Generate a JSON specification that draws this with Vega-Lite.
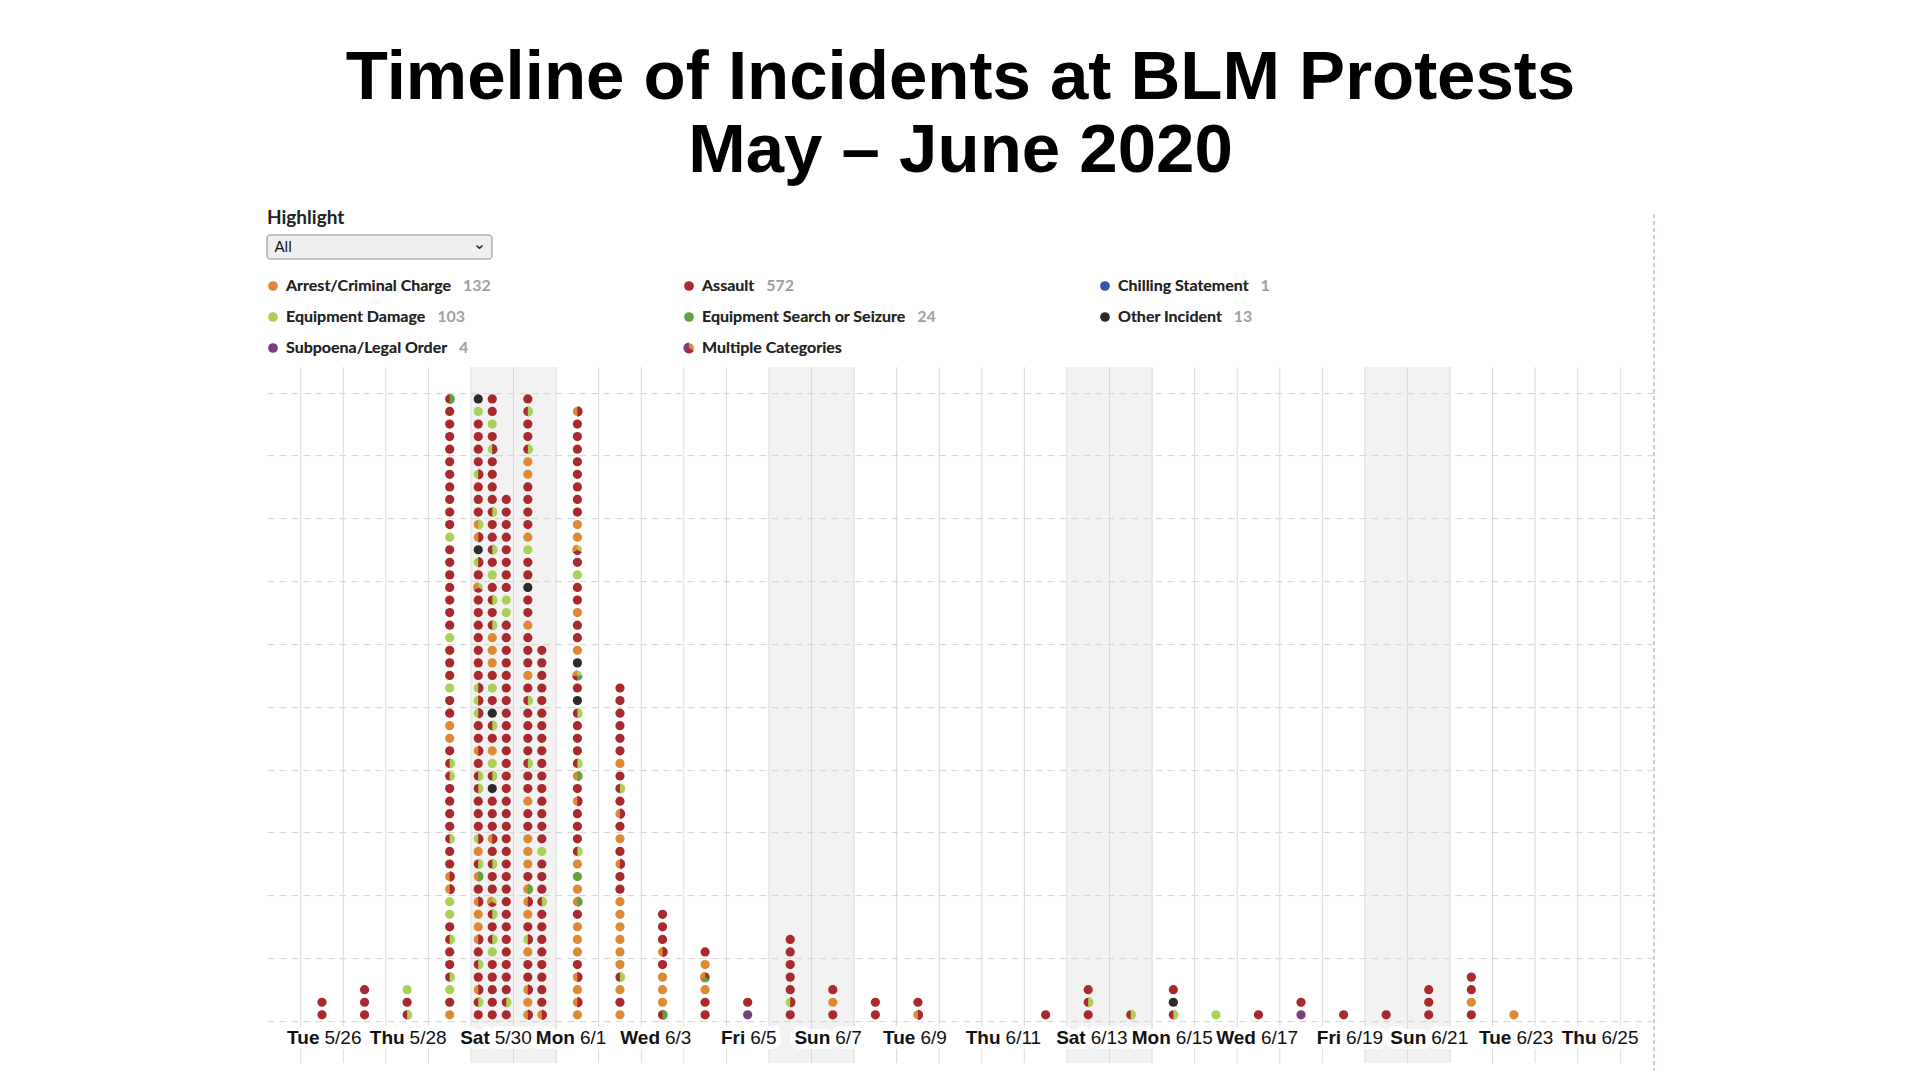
{
"$schema": "https://vega.github.io/schema/vega-lite/v6.json",
"background": "white",
"padding": {"left": 266, "top": 44, "right": 10, "bottom": 5},
"config": {"view": {"stroke": null}, "font": "Liberation Sans", "header": {"labels": false, "title": null, "labelFontSize": 1, "labelPadding": 0, "labelColor": "transparent", "titlePadding": 0}},
"title": {"text": ["Timeline of Incidents at BLM Protests", "May – June 2020"], "font": "Liberation Sans", "fontSize": 69, "fontWeight": "bold", "color": "#000", "anchor": "middle", "baseline": "alphabetic", "lineHeight": 73, "offset": -32.2, "frame": "bounds"},
"datasets": {
"legend": [
{"label": "Arrest/Criminal Charge", "count": 132, "cat": "Arrest/Criminal Charge"},
{"label": "Assault", "count": 572, "cat": "Assault"},
{"label": "Chilling Statement", "count": 1, "cat": "Chilling Statement"},
{"label": "Equipment Damage", "count": 103, "cat": "Equipment Damage"},
{"label": "Equipment Search or Seizure", "count": 24, "cat": "Equipment Search or Seizure"},
{"label": "Other Incident", "count": 13, "cat": "Other Incident"},
{"label": "Subpoena/Legal Order", "count": 4, "cat": "Subpoena/Legal Order"},
{"label": "Multiple Categories", "cat": "Arrest/Criminal Charge", "cat2": "Assault", "cat3": "Subpoena/Legal Order"}
],
"days": [
{"date": "2020-05-26"},{"date": "2020-05-27"},{"date": "2020-05-28"},{"date": "2020-05-29"},{"date": "2020-05-30"},{"date": "2020-05-31"},{"date": "2020-06-01"},{"date": "2020-06-02"},{"date": "2020-06-03"},{"date": "2020-06-04"},{"date": "2020-06-05"},{"date": "2020-06-06"},{"date": "2020-06-07"},{"date": "2020-06-08"},{"date": "2020-06-09"},{"date": "2020-06-10"},{"date": "2020-06-11"},{"date": "2020-06-12"},{"date": "2020-06-13"},{"date": "2020-06-14"},{"date": "2020-06-15"},{"date": "2020-06-16"},{"date": "2020-06-17"},{"date": "2020-06-18"},{"date": "2020-06-19"},{"date": "2020-06-20"},{"date": "2020-06-21"},{"date": "2020-06-22"},{"date": "2020-06-23"},{"date": "2020-06-24"},{"date": "2020-06-25"},{"date": "2020-06-26"}
],
"weekends": [
{"date": "2020-05-30"},{"date": "2020-05-31"},{"date": "2020-06-06"},{"date": "2020-06-07"},{"date": "2020-06-13"},{"date": "2020-06-14"},{"date": "2020-06-20"},{"date": "2020-06-21"}
],
"labels": [
{"date": "2020-05-26", "dow": "Tue", "md": "5/26"},
{"date": "2020-05-28", "dow": "Thu", "md": "5/28"},
{"date": "2020-05-30", "dow": "Sat", "md": "5/30"},
{"date": "2020-06-01", "dow": "Mon", "md": "6/1"},
{"date": "2020-06-03", "dow": "Wed", "md": "6/3"},
{"date": "2020-06-05", "dow": "Fri", "md": "6/5"},
{"date": "2020-06-07", "dow": "Sun", "md": "6/7"},
{"date": "2020-06-09", "dow": "Tue", "md": "6/9"},
{"date": "2020-06-11", "dow": "Thu", "md": "6/11"},
{"date": "2020-06-13", "dow": "Sat", "md": "6/13"},
{"date": "2020-06-15", "dow": "Mon", "md": "6/15"},
{"date": "2020-06-17", "dow": "Wed", "md": "6/17"},
{"date": "2020-06-19", "dow": "Fri", "md": "6/19"},
{"date": "2020-06-21", "dow": "Sun", "md": "6/21"},
{"date": "2020-06-23", "dow": "Tue", "md": "6/23"},
{"date": "2020-06-25", "dow": "Thu", "md": "6/25"}
],
"dots": [
{"date":"2020-05-26","col":0,"cat":"Assault"},
{"date":"2020-05-26","col":0,"cat":"Assault"},
{"date":"2020-05-27","col":0,"cat":"Assault"},
{"date":"2020-05-27","col":0,"cat":"Assault"},
{"date":"2020-05-27","col":0,"cat":"Assault"},
{"date":"2020-05-28","col":0,"cat":"Assault","cat2":"Equipment Damage"},
{"date":"2020-05-28","col":0,"cat":"Assault"},
{"date":"2020-05-28","col":0,"cat":"Equipment Damage"},
{"date":"2020-05-29","col":0,"cat":"Arrest/Criminal Charge"},
{"date":"2020-05-29","col":0,"cat":"Assault"},
{"date":"2020-05-29","col":0,"cat":"Equipment Damage"},
{"date":"2020-05-29","col":0,"cat":"Assault","cat2":"Equipment Damage"},
{"date":"2020-05-29","col":0,"cat":"Assault"},
{"date":"2020-05-29","col":0,"cat":"Assault"},
{"date":"2020-05-29","col":0,"cat":"Assault","cat2":"Equipment Damage"},
{"date":"2020-05-29","col":0,"cat":"Assault"},
{"date":"2020-05-29","col":0,"cat":"Equipment Damage"},
{"date":"2020-05-29","col":0,"cat":"Equipment Damage"},
{"date":"2020-05-29","col":0,"cat":"Arrest/Criminal Charge","cat2":"Assault"},
{"date":"2020-05-29","col":0,"cat":"Arrest/Criminal Charge","cat2":"Assault"},
{"date":"2020-05-29","col":0,"cat":"Assault"},
{"date":"2020-05-29","col":0,"cat":"Assault"},
{"date":"2020-05-29","col":0,"cat":"Assault","cat2":"Equipment Damage"},
{"date":"2020-05-29","col":0,"cat":"Assault"},
{"date":"2020-05-29","col":0,"cat":"Assault"},
{"date":"2020-05-29","col":0,"cat":"Assault"},
{"date":"2020-05-29","col":0,"cat":"Assault"},
{"date":"2020-05-29","col":0,"cat":"Assault","cat2":"Equipment Damage"},
{"date":"2020-05-29","col":0,"cat":"Assault","cat2":"Equipment Damage"},
{"date":"2020-05-29","col":0,"cat":"Assault"},
{"date":"2020-05-29","col":0,"cat":"Arrest/Criminal Charge"},
{"date":"2020-05-29","col":0,"cat":"Arrest/Criminal Charge"},
{"date":"2020-05-29","col":0,"cat":"Assault"},
{"date":"2020-05-29","col":0,"cat":"Assault"},
{"date":"2020-05-29","col":0,"cat":"Equipment Damage"},
{"date":"2020-05-29","col":0,"cat":"Assault"},
{"date":"2020-05-29","col":0,"cat":"Assault"},
{"date":"2020-05-29","col":0,"cat":"Assault"},
{"date":"2020-05-29","col":0,"cat":"Equipment Damage"},
{"date":"2020-05-29","col":0,"cat":"Assault"},
{"date":"2020-05-29","col":0,"cat":"Assault"},
{"date":"2020-05-29","col":0,"cat":"Assault"},
{"date":"2020-05-29","col":0,"cat":"Assault"},
{"date":"2020-05-29","col":0,"cat":"Assault"},
{"date":"2020-05-29","col":0,"cat":"Assault"},
{"date":"2020-05-29","col":0,"cat":"Assault"},
{"date":"2020-05-29","col":0,"cat":"Equipment Damage"},
{"date":"2020-05-29","col":0,"cat":"Assault"},
{"date":"2020-05-29","col":0,"cat":"Assault"},
{"date":"2020-05-29","col":0,"cat":"Assault"},
{"date":"2020-05-29","col":0,"cat":"Assault"},
{"date":"2020-05-29","col":0,"cat":"Assault"},
{"date":"2020-05-29","col":0,"cat":"Assault"},
{"date":"2020-05-29","col":0,"cat":"Assault"},
{"date":"2020-05-29","col":0,"cat":"Assault"},
{"date":"2020-05-29","col":0,"cat":"Assault"},
{"date":"2020-05-29","col":0,"cat":"Assault"},
{"date":"2020-05-29","col":0,"cat":"Assault","cat2":"Equipment Search or Seizure"},
{"date":"2020-05-30","col":-1,"cat":"Assault"},
{"date":"2020-05-30","col":-1,"cat":"Assault","cat2":"Equipment Damage"},
{"date":"2020-05-30","col":-1,"cat":"Arrest/Criminal Charge","cat2":"Assault"},
{"date":"2020-05-30","col":-1,"cat":"Assault"},
{"date":"2020-05-30","col":-1,"cat":"Assault","cat2":"Equipment Damage"},
{"date":"2020-05-30","col":-1,"cat":"Assault"},
{"date":"2020-05-30","col":-1,"cat":"Arrest/Criminal Charge","cat2":"Assault"},
{"date":"2020-05-30","col":-1,"cat":"Arrest/Criminal Charge"},
{"date":"2020-05-30","col":-1,"cat":"Arrest/Criminal Charge"},
{"date":"2020-05-30","col":-1,"cat":"Arrest/Criminal Charge","cat2":"Assault"},
{"date":"2020-05-30","col":-1,"cat":"Assault"},
{"date":"2020-05-30","col":-1,"cat":"Arrest/Criminal Charge","cat2":"Equipment Search or Seizure"},
{"date":"2020-05-30","col":-1,"cat":"Assault","cat2":"Equipment Damage"},
{"date":"2020-05-30","col":-1,"cat":"Arrest/Criminal Charge"},
{"date":"2020-05-30","col":-1,"cat":"Equipment Damage","cat2":"Assault"},
{"date":"2020-05-30","col":-1,"cat":"Assault"},
{"date":"2020-05-30","col":-1,"cat":"Assault"},
{"date":"2020-05-30","col":-1,"cat":"Assault"},
{"date":"2020-05-30","col":-1,"cat":"Assault","cat2":"Equipment Damage"},
{"date":"2020-05-30","col":-1,"cat":"Assault","cat2":"Equipment Damage"},
{"date":"2020-05-30","col":-1,"cat":"Assault"},
{"date":"2020-05-30","col":-1,"cat":"Arrest/Criminal Charge","cat2":"Assault"},
{"date":"2020-05-30","col":-1,"cat":"Assault"},
{"date":"2020-05-30","col":-1,"cat":"Assault"},
{"date":"2020-05-30","col":-1,"cat":"Equipment Damage","cat2":"Assault"},
{"date":"2020-05-30","col":-1,"cat":"Equipment Damage","cat2":"Assault"},
{"date":"2020-05-30","col":-1,"cat":"Equipment Damage","cat2":"Assault"},
{"date":"2020-05-30","col":-1,"cat":"Assault"},
{"date":"2020-05-30","col":-1,"cat":"Assault"},
{"date":"2020-05-30","col":-1,"cat":"Assault"},
{"date":"2020-05-30","col":-1,"cat":"Assault"},
{"date":"2020-05-30","col":-1,"cat":"Assault"},
{"date":"2020-05-30","col":-1,"cat":"Assault"},
{"date":"2020-05-30","col":-1,"cat":"Assault"},
{"date":"2020-05-30","col":-1,"cat":"Equipment Damage","cat2":"Assault","cat3":"Arrest/Criminal Charge"},
{"date":"2020-05-30","col":-1,"cat":"Assault"},
{"date":"2020-05-30","col":-1,"cat":"Equipment Damage","cat2":"Assault"},
{"date":"2020-05-30","col":-1,"cat":"Other Incident"},
{"date":"2020-05-30","col":-1,"cat":"Arrest/Criminal Charge","cat2":"Assault"},
{"date":"2020-05-30","col":-1,"cat":"Arrest/Criminal Charge","cat2":"Equipment Damage"},
{"date":"2020-05-30","col":-1,"cat":"Assault"},
{"date":"2020-05-30","col":-1,"cat":"Assault"},
{"date":"2020-05-30","col":-1,"cat":"Assault"},
{"date":"2020-05-30","col":-1,"cat":"Equipment Damage","cat2":"Assault"},
{"date":"2020-05-30","col":-1,"cat":"Assault"},
{"date":"2020-05-30","col":-1,"cat":"Assault"},
{"date":"2020-05-30","col":-1,"cat":"Assault"},
{"date":"2020-05-30","col":-1,"cat":"Assault"},
{"date":"2020-05-30","col":-1,"cat":"Equipment Damage"},
{"date":"2020-05-30","col":-1,"cat":"Other Incident"},
{"date":"2020-05-30","col":0,"cat":"Assault"},
{"date":"2020-05-30","col":0,"cat":"Assault"},
{"date":"2020-05-30","col":0,"cat":"Assault"},
{"date":"2020-05-30","col":0,"cat":"Assault"},
{"date":"2020-05-30","col":0,"cat":"Assault"},
{"date":"2020-05-30","col":0,"cat":"Equipment Damage"},
{"date":"2020-05-30","col":0,"cat":"Assault","cat2":"Equipment Damage"},
{"date":"2020-05-30","col":0,"cat":"Assault"},
{"date":"2020-05-30","col":0,"cat":"Assault","cat2":"Equipment Damage"},
{"date":"2020-05-30","col":0,"cat":"Equipment Damage","cat2":"Assault","cat3":"Arrest/Criminal Charge"},
{"date":"2020-05-30","col":0,"cat":"Assault"},
{"date":"2020-05-30","col":0,"cat":"Assault"},
{"date":"2020-05-30","col":0,"cat":"Assault","cat2":"Equipment Damage"},
{"date":"2020-05-30","col":0,"cat":"Assault"},
{"date":"2020-05-30","col":0,"cat":"Arrest/Criminal Charge","cat2":"Assault"},
{"date":"2020-05-30","col":0,"cat":"Assault"},
{"date":"2020-05-30","col":0,"cat":"Assault"},
{"date":"2020-05-30","col":0,"cat":"Assault"},
{"date":"2020-05-30","col":0,"cat":"Other Incident"},
{"date":"2020-05-30","col":0,"cat":"Assault","cat2":"Equipment Damage"},
{"date":"2020-05-30","col":0,"cat":"Equipment Damage"},
{"date":"2020-05-30","col":0,"cat":"Arrest/Criminal Charge"},
{"date":"2020-05-30","col":0,"cat":"Assault"},
{"date":"2020-05-30","col":0,"cat":"Assault","cat2":"Equipment Damage"},
{"date":"2020-05-30","col":0,"cat":"Other Incident"},
{"date":"2020-05-30","col":0,"cat":"Assault"},
{"date":"2020-05-30","col":0,"cat":"Equipment Damage"},
{"date":"2020-05-30","col":0,"cat":"Assault"},
{"date":"2020-05-30","col":0,"cat":"Arrest/Criminal Charge"},
{"date":"2020-05-30","col":0,"cat":"Arrest/Criminal Charge"},
{"date":"2020-05-30","col":0,"cat":"Arrest/Criminal Charge"},
{"date":"2020-05-30","col":0,"cat":"Assault","cat2":"Equipment Damage"},
{"date":"2020-05-30","col":0,"cat":"Assault"},
{"date":"2020-05-30","col":0,"cat":"Assault","cat2":"Equipment Damage"},
{"date":"2020-05-30","col":0,"cat":"Assault"},
{"date":"2020-05-30","col":0,"cat":"Equipment Damage"},
{"date":"2020-05-30","col":0,"cat":"Assault"},
{"date":"2020-05-30","col":0,"cat":"Assault","cat2":"Equipment Damage"},
{"date":"2020-05-30","col":0,"cat":"Assault"},
{"date":"2020-05-30","col":0,"cat":"Assault"},
{"date":"2020-05-30","col":0,"cat":"Assault","cat2":"Equipment Damage"},
{"date":"2020-05-30","col":0,"cat":"Assault"},
{"date":"2020-05-30","col":0,"cat":"Assault"},
{"date":"2020-05-30","col":0,"cat":"Assault"},
{"date":"2020-05-30","col":0,"cat":"Assault"},
{"date":"2020-05-30","col":0,"cat":"Equipment Damage","cat2":"Assault"},
{"date":"2020-05-30","col":0,"cat":"Assault"},
{"date":"2020-05-30","col":0,"cat":"Equipment Damage"},
{"date":"2020-05-30","col":0,"cat":"Assault"},
{"date":"2020-05-30","col":0,"cat":"Assault"},
{"date":"2020-05-30","col":1,"cat":"Assault"},
{"date":"2020-05-30","col":1,"cat":"Assault","cat2":"Equipment Damage"},
{"date":"2020-05-30","col":1,"cat":"Assault"},
{"date":"2020-05-30","col":1,"cat":"Assault"},
{"date":"2020-05-30","col":1,"cat":"Assault"},
{"date":"2020-05-30","col":1,"cat":"Assault"},
{"date":"2020-05-30","col":1,"cat":"Assault"},
{"date":"2020-05-30","col":1,"cat":"Assault"},
{"date":"2020-05-30","col":1,"cat":"Assault"},
{"date":"2020-05-30","col":1,"cat":"Assault"},
{"date":"2020-05-30","col":1,"cat":"Assault"},
{"date":"2020-05-30","col":1,"cat":"Assault"},
{"date":"2020-05-30","col":1,"cat":"Assault"},
{"date":"2020-05-30","col":1,"cat":"Assault"},
{"date":"2020-05-30","col":1,"cat":"Assault"},
{"date":"2020-05-30","col":1,"cat":"Assault"},
{"date":"2020-05-30","col":1,"cat":"Assault"},
{"date":"2020-05-30","col":1,"cat":"Assault"},
{"date":"2020-05-30","col":1,"cat":"Assault"},
{"date":"2020-05-30","col":1,"cat":"Assault"},
{"date":"2020-05-30","col":1,"cat":"Assault"},
{"date":"2020-05-30","col":1,"cat":"Assault"},
{"date":"2020-05-30","col":1,"cat":"Assault"},
{"date":"2020-05-30","col":1,"cat":"Assault"},
{"date":"2020-05-30","col":1,"cat":"Assault"},
{"date":"2020-05-30","col":1,"cat":"Assault"},
{"date":"2020-05-30","col":1,"cat":"Assault"},
{"date":"2020-05-30","col":1,"cat":"Assault"},
{"date":"2020-05-30","col":1,"cat":"Assault"},
{"date":"2020-05-30","col":1,"cat":"Assault"},
{"date":"2020-05-30","col":1,"cat":"Assault"},
{"date":"2020-05-30","col":1,"cat":"Assault"},
{"date":"2020-05-30","col":1,"cat":"Equipment Damage"},
{"date":"2020-05-30","col":1,"cat":"Equipment Damage"},
{"date":"2020-05-30","col":1,"cat":"Assault"},
{"date":"2020-05-30","col":1,"cat":"Assault"},
{"date":"2020-05-30","col":1,"cat":"Assault"},
{"date":"2020-05-30","col":1,"cat":"Assault"},
{"date":"2020-05-30","col":1,"cat":"Assault"},
{"date":"2020-05-30","col":1,"cat":"Assault"},
{"date":"2020-05-30","col":1,"cat":"Assault"},
{"date":"2020-05-30","col":1,"cat":"Assault"},
{"date":"2020-05-31","col":-0.5,"cat":"Arrest/Criminal Charge","cat2":"Assault"},
{"date":"2020-05-31","col":-0.5,"cat":"Arrest/Criminal Charge"},
{"date":"2020-05-31","col":-0.5,"cat":"Arrest/Criminal Charge","cat2":"Assault"},
{"date":"2020-05-31","col":-0.5,"cat":"Assault"},
{"date":"2020-05-31","col":-0.5,"cat":"Assault"},
{"date":"2020-05-31","col":-0.5,"cat":"Arrest/Criminal Charge"},
{"date":"2020-05-31","col":-0.5,"cat":"Equipment Damage","cat2":"Assault"},
{"date":"2020-05-31","col":-0.5,"cat":"Assault"},
{"date":"2020-05-31","col":-0.5,"cat":"Arrest/Criminal Charge"},
{"date":"2020-05-31","col":-0.5,"cat":"Arrest/Criminal Charge","cat2":"Assault"},
{"date":"2020-05-31","col":-0.5,"cat":"Arrest/Criminal Charge","cat2":"Equipment Search or Seizure"},
{"date":"2020-05-31","col":-0.5,"cat":"Assault"},
{"date":"2020-05-31","col":-0.5,"cat":"Arrest/Criminal Charge"},
{"date":"2020-05-31","col":-0.5,"cat":"Arrest/Criminal Charge"},
{"date":"2020-05-31","col":-0.5,"cat":"Arrest/Criminal Charge"},
{"date":"2020-05-31","col":-0.5,"cat":"Assault"},
{"date":"2020-05-31","col":-0.5,"cat":"Assault"},
{"date":"2020-05-31","col":-0.5,"cat":"Arrest/Criminal Charge"},
{"date":"2020-05-31","col":-0.5,"cat":"Assault"},
{"date":"2020-05-31","col":-0.5,"cat":"Assault"},
{"date":"2020-05-31","col":-0.5,"cat":"Assault","cat2":"Equipment Damage"},
{"date":"2020-05-31","col":-0.5,"cat":"Assault"},
{"date":"2020-05-31","col":-0.5,"cat":"Assault"},
{"date":"2020-05-31","col":-0.5,"cat":"Assault"},
{"date":"2020-05-31","col":-0.5,"cat":"Assault"},
{"date":"2020-05-31","col":-0.5,"cat":"Assault","cat2":"Equipment Damage"},
{"date":"2020-05-31","col":-0.5,"cat":"Assault"},
{"date":"2020-05-31","col":-0.5,"cat":"Arrest/Criminal Charge"},
{"date":"2020-05-31","col":-0.5,"cat":"Assault"},
{"date":"2020-05-31","col":-0.5,"cat":"Assault"},
{"date":"2020-05-31","col":-0.5,"cat":"Assault"},
{"date":"2020-05-31","col":-0.5,"cat":"Arrest/Criminal Charge"},
{"date":"2020-05-31","col":-0.5,"cat":"Assault"},
{"date":"2020-05-31","col":-0.5,"cat":"Assault"},
{"date":"2020-05-31","col":-0.5,"cat":"Other Incident"},
{"date":"2020-05-31","col":-0.5,"cat":"Assault"},
{"date":"2020-05-31","col":-0.5,"cat":"Assault"},
{"date":"2020-05-31","col":-0.5,"cat":"Equipment Damage"},
{"date":"2020-05-31","col":-0.5,"cat":"Arrest/Criminal Charge"},
{"date":"2020-05-31","col":-0.5,"cat":"Assault"},
{"date":"2020-05-31","col":-0.5,"cat":"Assault"},
{"date":"2020-05-31","col":-0.5,"cat":"Assault"},
{"date":"2020-05-31","col":-0.5,"cat":"Assault"},
{"date":"2020-05-31","col":-0.5,"cat":"Arrest/Criminal Charge"},
{"date":"2020-05-31","col":-0.5,"cat":"Arrest/Criminal Charge"},
{"date":"2020-05-31","col":-0.5,"cat":"Assault","cat2":"Equipment Damage"},
{"date":"2020-05-31","col":-0.5,"cat":"Assault"},
{"date":"2020-05-31","col":-0.5,"cat":"Assault"},
{"date":"2020-05-31","col":-0.5,"cat":"Assault","cat2":"Equipment Damage"},
{"date":"2020-05-31","col":-0.5,"cat":"Assault"},
{"date":"2020-05-31","col":0.5,"cat":"Arrest/Criminal Charge","cat2":"Assault"},
{"date":"2020-05-31","col":0.5,"cat":"Assault"},
{"date":"2020-05-31","col":0.5,"cat":"Assault"},
{"date":"2020-05-31","col":0.5,"cat":"Assault"},
{"date":"2020-05-31","col":0.5,"cat":"Assault"},
{"date":"2020-05-31","col":0.5,"cat":"Assault"},
{"date":"2020-05-31","col":0.5,"cat":"Assault"},
{"date":"2020-05-31","col":0.5,"cat":"Assault"},
{"date":"2020-05-31","col":0.5,"cat":"Assault"},
{"date":"2020-05-31","col":0.5,"cat":"Assault","cat2":"Equipment Damage"},
{"date":"2020-05-31","col":0.5,"cat":"Assault"},
{"date":"2020-05-31","col":0.5,"cat":"Assault"},
{"date":"2020-05-31","col":0.5,"cat":"Assault"},
{"date":"2020-05-31","col":0.5,"cat":"Equipment Damage"},
{"date":"2020-05-31","col":0.5,"cat":"Assault"},
{"date":"2020-05-31","col":0.5,"cat":"Assault"},
{"date":"2020-05-31","col":0.5,"cat":"Assault"},
{"date":"2020-05-31","col":0.5,"cat":"Assault"},
{"date":"2020-05-31","col":0.5,"cat":"Assault"},
{"date":"2020-05-31","col":0.5,"cat":"Assault"},
{"date":"2020-05-31","col":0.5,"cat":"Assault"},
{"date":"2020-05-31","col":0.5,"cat":"Assault"},
{"date":"2020-05-31","col":0.5,"cat":"Assault"},
{"date":"2020-05-31","col":0.5,"cat":"Assault"},
{"date":"2020-05-31","col":0.5,"cat":"Assault"},
{"date":"2020-05-31","col":0.5,"cat":"Assault"},
{"date":"2020-05-31","col":0.5,"cat":"Assault"},
{"date":"2020-05-31","col":0.5,"cat":"Assault"},
{"date":"2020-05-31","col":0.5,"cat":"Assault"},
{"date":"2020-05-31","col":0.5,"cat":"Assault"},
{"date":"2020-06-01","col":0,"cat":"Arrest/Criminal Charge"},
{"date":"2020-06-01","col":0,"cat":"Arrest/Criminal Charge","cat2":"Assault"},
{"date":"2020-06-01","col":0,"cat":"Arrest/Criminal Charge"},
{"date":"2020-06-01","col":0,"cat":"Arrest/Criminal Charge","cat2":"Assault"},
{"date":"2020-06-01","col":0,"cat":"Assault"},
{"date":"2020-06-01","col":0,"cat":"Arrest/Criminal Charge"},
{"date":"2020-06-01","col":0,"cat":"Arrest/Criminal Charge"},
{"date":"2020-06-01","col":0,"cat":"Arrest/Criminal Charge"},
{"date":"2020-06-01","col":0,"cat":"Assault"},
{"date":"2020-06-01","col":0,"cat":"Arrest/Criminal Charge","cat2":"Equipment Search or Seizure"},
{"date":"2020-06-01","col":0,"cat":"Arrest/Criminal Charge"},
{"date":"2020-06-01","col":0,"cat":"Equipment Search or Seizure"},
{"date":"2020-06-01","col":0,"cat":"Arrest/Criminal Charge"},
{"date":"2020-06-01","col":0,"cat":"Assault","cat2":"Equipment Damage"},
{"date":"2020-06-01","col":0,"cat":"Assault"},
{"date":"2020-06-01","col":0,"cat":"Assault"},
{"date":"2020-06-01","col":0,"cat":"Assault"},
{"date":"2020-06-01","col":0,"cat":"Arrest/Criminal Charge","cat2":"Assault"},
{"date":"2020-06-01","col":0,"cat":"Assault"},
{"date":"2020-06-01","col":0,"cat":"Arrest/Criminal Charge","cat2":"Equipment Search or Seizure"},
{"date":"2020-06-01","col":0,"cat":"Assault","cat2":"Equipment Damage"},
{"date":"2020-06-01","col":0,"cat":"Assault"},
{"date":"2020-06-01","col":0,"cat":"Assault"},
{"date":"2020-06-01","col":0,"cat":"Assault"},
{"date":"2020-06-01","col":0,"cat":"Assault","cat2":"Equipment Damage"},
{"date":"2020-06-01","col":0,"cat":"Other Incident"},
{"date":"2020-06-01","col":0,"cat":"Assault"},
{"date":"2020-06-01","col":0,"cat":"Equipment Damage","cat2":"Equipment Search or Seizure","cat3":"Assault","cat4":"Arrest/Criminal Charge"},
{"date":"2020-06-01","col":0,"cat":"Other Incident"},
{"date":"2020-06-01","col":0,"cat":"Arrest/Criminal Charge"},
{"date":"2020-06-01","col":0,"cat":"Assault"},
{"date":"2020-06-01","col":0,"cat":"Assault"},
{"date":"2020-06-01","col":0,"cat":"Arrest/Criminal Charge"},
{"date":"2020-06-01","col":0,"cat":"Assault"},
{"date":"2020-06-01","col":0,"cat":"Assault"},
{"date":"2020-06-01","col":0,"cat":"Equipment Damage"},
{"date":"2020-06-01","col":0,"cat":"Assault"},
{"date":"2020-06-01","col":0,"cat":"Equipment Damage","cat2":"Assault","cat3":"Arrest/Criminal Charge"},
{"date":"2020-06-01","col":0,"cat":"Arrest/Criminal Charge"},
{"date":"2020-06-01","col":0,"cat":"Arrest/Criminal Charge"},
{"date":"2020-06-01","col":0,"cat":"Assault"},
{"date":"2020-06-01","col":0,"cat":"Assault"},
{"date":"2020-06-01","col":0,"cat":"Assault"},
{"date":"2020-06-01","col":0,"cat":"Assault"},
{"date":"2020-06-01","col":0,"cat":"Assault"},
{"date":"2020-06-01","col":0,"cat":"Assault"},
{"date":"2020-06-01","col":0,"cat":"Assault"},
{"date":"2020-06-01","col":0,"cat":"Assault"},
{"date":"2020-06-01","col":0,"cat":"Arrest/Criminal Charge","cat2":"Assault"},
{"date":"2020-06-02","col":0,"cat":"Arrest/Criminal Charge"},
{"date":"2020-06-02","col":0,"cat":"Assault"},
{"date":"2020-06-02","col":0,"cat":"Arrest/Criminal Charge"},
{"date":"2020-06-02","col":0,"cat":"Assault","cat2":"Equipment Damage"},
{"date":"2020-06-02","col":0,"cat":"Arrest/Criminal Charge"},
{"date":"2020-06-02","col":0,"cat":"Arrest/Criminal Charge"},
{"date":"2020-06-02","col":0,"cat":"Arrest/Criminal Charge"},
{"date":"2020-06-02","col":0,"cat":"Arrest/Criminal Charge"},
{"date":"2020-06-02","col":0,"cat":"Arrest/Criminal Charge"},
{"date":"2020-06-02","col":0,"cat":"Arrest/Criminal Charge"},
{"date":"2020-06-02","col":0,"cat":"Assault"},
{"date":"2020-06-02","col":0,"cat":"Assault"},
{"date":"2020-06-02","col":0,"cat":"Arrest/Criminal Charge","cat2":"Assault"},
{"date":"2020-06-02","col":0,"cat":"Assault"},
{"date":"2020-06-02","col":0,"cat":"Arrest/Criminal Charge"},
{"date":"2020-06-02","col":0,"cat":"Assault"},
{"date":"2020-06-02","col":0,"cat":"Arrest/Criminal Charge","cat2":"Assault"},
{"date":"2020-06-02","col":0,"cat":"Assault"},
{"date":"2020-06-02","col":0,"cat":"Assault","cat2":"Equipment Damage"},
{"date":"2020-06-02","col":0,"cat":"Assault"},
{"date":"2020-06-02","col":0,"cat":"Arrest/Criminal Charge"},
{"date":"2020-06-02","col":0,"cat":"Assault"},
{"date":"2020-06-02","col":0,"cat":"Assault"},
{"date":"2020-06-02","col":0,"cat":"Assault"},
{"date":"2020-06-02","col":0,"cat":"Assault"},
{"date":"2020-06-02","col":0,"cat":"Assault"},
{"date":"2020-06-02","col":0,"cat":"Assault"},
{"date":"2020-06-03","col":0,"cat":"Assault","cat2":"Equipment Search or Seizure"},
{"date":"2020-06-03","col":0,"cat":"Arrest/Criminal Charge"},
{"date":"2020-06-03","col":0,"cat":"Arrest/Criminal Charge"},
{"date":"2020-06-03","col":0,"cat":"Arrest/Criminal Charge"},
{"date":"2020-06-03","col":0,"cat":"Assault"},
{"date":"2020-06-03","col":0,"cat":"Arrest/Criminal Charge","cat2":"Assault"},
{"date":"2020-06-03","col":0,"cat":"Assault"},
{"date":"2020-06-03","col":0,"cat":"Assault"},
{"date":"2020-06-03","col":0,"cat":"Assault"},
{"date":"2020-06-04","col":0,"cat":"Assault"},
{"date":"2020-06-04","col":0,"cat":"Assault"},
{"date":"2020-06-04","col":0,"cat":"Arrest/Criminal Charge"},
{"date":"2020-06-04","col":0,"cat":"Assault","cat2":"Equipment Search or Seizure","cat3":"Arrest/Criminal Charge"},
{"date":"2020-06-04","col":0,"cat":"Arrest/Criminal Charge"},
{"date":"2020-06-04","col":0,"cat":"Assault"},
{"date":"2020-06-05","col":0,"cat":"Subpoena/Legal Order"},
{"date":"2020-06-05","col":0,"cat":"Assault"},
{"date":"2020-06-06","col":0,"cat":"Assault"},
{"date":"2020-06-06","col":0,"cat":"Equipment Damage","cat2":"Assault"},
{"date":"2020-06-06","col":0,"cat":"Assault"},
{"date":"2020-06-06","col":0,"cat":"Assault"},
{"date":"2020-06-06","col":0,"cat":"Assault"},
{"date":"2020-06-06","col":0,"cat":"Assault"},
{"date":"2020-06-06","col":0,"cat":"Assault"},
{"date":"2020-06-07","col":0,"cat":"Assault"},
{"date":"2020-06-07","col":0,"cat":"Arrest/Criminal Charge"},
{"date":"2020-06-07","col":0,"cat":"Assault"},
{"date":"2020-06-08","col":0,"cat":"Assault"},
{"date":"2020-06-08","col":0,"cat":"Assault"},
{"date":"2020-06-09","col":0,"cat":"Arrest/Criminal Charge","cat2":"Assault"},
{"date":"2020-06-09","col":0,"cat":"Assault"},
{"date":"2020-06-12","col":0,"cat":"Assault"},
{"date":"2020-06-13","col":0,"cat":"Assault"},
{"date":"2020-06-13","col":0,"cat":"Assault","cat2":"Equipment Damage"},
{"date":"2020-06-13","col":0,"cat":"Assault"},
{"date":"2020-06-14","col":0,"cat":"Assault","cat2":"Equipment Damage"},
{"date":"2020-06-15","col":0,"cat":"Assault","cat2":"Equipment Damage"},
{"date":"2020-06-15","col":0,"cat":"Other Incident"},
{"date":"2020-06-15","col":0,"cat":"Assault"},
{"date":"2020-06-16","col":0,"cat":"Equipment Damage"},
{"date":"2020-06-17","col":0,"cat":"Assault"},
{"date":"2020-06-18","col":0,"cat":"Subpoena/Legal Order"},
{"date":"2020-06-18","col":0,"cat":"Assault"},
{"date":"2020-06-19","col":0,"cat":"Assault"},
{"date":"2020-06-20","col":0,"cat":"Assault"},
{"date":"2020-06-21","col":0,"cat":"Assault"},
{"date":"2020-06-21","col":0,"cat":"Assault"},
{"date":"2020-06-21","col":0,"cat":"Assault"},
{"date":"2020-06-22","col":0,"cat":"Assault"},
{"date":"2020-06-22","col":0,"cat":"Arrest/Criminal Charge"},
{"date":"2020-06-22","col":0,"cat":"Assault"},
{"date":"2020-06-22","col":0,"cat":"Assault"},
{"date":"2020-06-23","col":0,"cat":"Arrest/Criminal Charge"}
]
},
"spacing": -150.9,
"vconcat": [
{
"spacing": 9.5,
"vconcat": [
{
"width": 225,
"height": 24,
"title": {"text": "Highlight", "anchor": "start", "frame": "group", "font": "Lato", "fontSize": 19, "fontWeight": "bold", "color": "#222", "baseline": "alphabetic", "offset": -8.5},
"data": {"values": [{"selected": "All"}]},
"layer": [
{"mark": {"type": "rect", "fill": "#efefef", "stroke": "#8a8a8a", "strokeWidth": 1, "cornerRadius": 3}, "encoding": {}},
{"mark": {"type": "text", "align": "left", "baseline": "middle", "dx": -105, "font": "Lato", "fontSize": 15, "color": "#111"}, "encoding": {"text": {"field": "selected"}}},
{"mark": {"type": "text", "text": "⌄", "align": "center", "baseline": "middle", "dx": 100, "dy": -3, "font": "DejaVu Sans", "fontSize": 16, "color": "#222"}, "encoding": {}}
]
},
{
"data": {"name": "legend"},
"facet": {"field": "label", "type": "nominal", "header": {"labels": false, "title": null, "labelFontSize": 1, "labelPadding": 0, "labelColor": "transparent"}, "sort": ["Arrest/Criminal Charge", "Assault", "Chilling Statement", "Equipment Damage", "Equipment Search or Seizure", "Other Incident", "Subpoena/Legal Order", "Multiple Categories"]},
"columns": 3,
"spacing": {"row": 0, "column": 404},
"bounds": "flush",
"spec": {
"width": 12,
"height": 31,
"layer": [
{"mark": {"type": "point", "filled": true, "shape": "circle", "size": 95, "opacity": 1, "strokeWidth": 0},
 "encoding": {"color": {"field": "cat", "type": "nominal", "legend": null, "scale": {"domain": ["Arrest/Criminal Charge", "Assault", "Chilling Statement", "Equipment Damage", "Equipment Search or Seizure", "Other Incident", "Subpoena/Legal Order"], "range": ["#dc8a35", "#a8292e", "#3a52a8", "#a9d158", "#62a040", "#2b2b2b", "#793e7f"]}}}},
{"transform": [{"filter": "isValid(datum.cat2)"}],
 "mark": {"type": "point", "filled": true, "shape": "M0,0L0.866,0.5A1,1,0,0,1,-0.866,0.5Z", "size": 121, "opacity": 1, "strokeWidth": 0},
 "encoding": {"color": {"field": "cat2", "type": "nominal", "legend": null, "scale": {"domain": ["Arrest/Criminal Charge", "Assault", "Chilling Statement", "Equipment Damage", "Equipment Search or Seizure", "Other Incident", "Subpoena/Legal Order"], "range": ["#dc8a35", "#a8292e", "#3a52a8", "#a9d158", "#62a040", "#2b2b2b", "#793e7f"]}}}},
{"transform": [{"filter": "isValid(datum.cat3)"}],
 "mark": {"type": "point", "filled": true, "shape": "M0,0L-0.866,0.5A1,1,0,0,1,0,-1Z", "size": 121, "opacity": 1, "strokeWidth": 0},
 "encoding": {"color": {"field": "cat3", "type": "nominal", "legend": null, "scale": {"domain": ["Arrest/Criminal Charge", "Assault", "Chilling Statement", "Equipment Damage", "Equipment Search or Seizure", "Other Incident", "Subpoena/Legal Order"], "range": ["#dc8a35", "#a8292e", "#3a52a8", "#a9d158", "#62a040", "#2b2b2b", "#793e7f"]}}}},
{"mark": {"type": "text", "align": "left", "baseline": "middle", "dx": 13, "font": "Lato", "fontSize": 16, "fontWeight": "bold", "color": "#a0a0a0", "text": {"expr": "datum.label + (isValid(datum.count) ? '\u2002\u00a0' + datum.count : '')"}}, "encoding": {}},
{"mark": {"type": "text", "align": "left", "baseline": "middle", "dx": 13, "font": "Lato", "fontSize": 16, "fontWeight": "bold", "color": "#222"}, "encoding": {"text": {"field": "label"}}}
]
}
}
]
},
{
"width": 1387,
"height": 696,
"layer": [
{
"data": {"name": "weekends"},
"mark": {"type": "rect", "color": "#f2f2f2"},
"encoding": {
"x": {"field": "date", "type": "temporal", "timeUnit": "utcyearmonthdate", "axis": null, "scale": {"type": "utc", "domain": [{"year": 2020, "month": 5, "date": 25, "hours": 5, "utc": true}, {"year": 2020, "month": 6, "date": 26, "hours": 19, "utc": true}]}}
}
},
{
"data": {"name": "days"},
"mark": {"type": "rule", "color": "#dadada", "strokeWidth": 1},
"encoding": {
"x": {"field": "date", "type": "temporal", "timeUnit": "utcyearmonthdate", "bandPosition": 0, "axis": null, "scale": {"type": "utc", "domain": [{"year": 2020, "month": 5, "date": 25, "hours": 5, "utc": true}, {"year": 2020, "month": 6, "date": 26, "hours": 19, "utc": true}]}}
}
},
{
"data": {"name": "dots"},
"transform": [{"window": [{"op": "row_number", "as": "n"}], "groupby": ["date", "col"]}],
"encoding": {
"x": {"field": "date", "type": "temporal", "timeUnit": "utcyearmonthdate", "axis": null, "scale": {"type": "utc", "domain": [{"year": 2020, "month": 5, "date": 25, "hours": 5, "utc": true}, {"year": 2020, "month": 6, "date": 26, "hours": 19, "utc": true}]}},
"xOffset": {"field": "col", "type": "quantitative", "scale": {"domain": [-1, 1], "range": [7.29, 35.29], "nice": false, "zero": false}},
"y": {"field": "n", "type": "quantitative", "scale": {"domain": [-2.84, 52.53], "nice": false, "zero": false}, "axis": {"values": [0.5, 5.5, 10.5, 15.5, 20.5, 25.5, 30.5, 35.5, 40.5, 45.5, 50.5], "grid": true, "gridDash": [7, 5], "gridColor": "#d4d4d4", "gridWidth": 1, "labels": false, "ticks": false, "domain": false, "title": null, "zindex": 1}}
},
"layer": [
{"mark": {"type": "point", "filled": true, "shape": "circle", "size": 85, "opacity": 1, "strokeWidth": 0},
 "encoding": {"color": {"field": "cat", "type": "nominal", "legend": null, "scale": {"domain": ["Arrest/Criminal Charge", "Assault", "Chilling Statement", "Equipment Damage", "Equipment Search or Seizure", "Other Incident", "Subpoena/Legal Order"], "range": ["#dc8a35", "#a8292e", "#3a52a8", "#a9d158", "#62a040", "#2b2b2b", "#793e7f"]}}}},
{"transform": [{"filter": "isValid(datum.cat2) && !isValid(datum.cat3)"}],
 "mark": {"type": "point", "filled": true, "shape": "M0,-1A1,1,0,0,1,0,1Z", "size": 108, "opacity": 1, "strokeWidth": 0},
 "encoding": {"color": {"field": "cat2", "type": "nominal", "legend": null, "scale": {"domain": ["Arrest/Criminal Charge", "Assault", "Chilling Statement", "Equipment Damage", "Equipment Search or Seizure", "Other Incident", "Subpoena/Legal Order"], "range": ["#dc8a35", "#a8292e", "#3a52a8", "#a9d158", "#62a040", "#2b2b2b", "#793e7f"]}}}},
{"transform": [{"filter": "isValid(datum.cat3) && !isValid(datum.cat4)"}],
 "mark": {"type": "point", "filled": true, "shape": "M0,0L0.866,0.5A1,1,0,0,1,-0.866,0.5Z", "size": 108, "opacity": 1, "strokeWidth": 0},
 "encoding": {"color": {"field": "cat2", "type": "nominal", "legend": null, "scale": {"domain": ["Arrest/Criminal Charge", "Assault", "Chilling Statement", "Equipment Damage", "Equipment Search or Seizure", "Other Incident", "Subpoena/Legal Order"], "range": ["#dc8a35", "#a8292e", "#3a52a8", "#a9d158", "#62a040", "#2b2b2b", "#793e7f"]}}}},
{"transform": [{"filter": "isValid(datum.cat3) && !isValid(datum.cat4)"}],
 "mark": {"type": "point", "filled": true, "shape": "M0,0L-0.866,0.5A1,1,0,0,1,0,-1Z", "size": 108, "opacity": 1, "strokeWidth": 0},
 "encoding": {"color": {"field": "cat3", "type": "nominal", "legend": null, "scale": {"domain": ["Arrest/Criminal Charge", "Assault", "Chilling Statement", "Equipment Damage", "Equipment Search or Seizure", "Other Incident", "Subpoena/Legal Order"], "range": ["#dc8a35", "#a8292e", "#3a52a8", "#a9d158", "#62a040", "#2b2b2b", "#793e7f"]}}}},
{"transform": [{"filter": "isValid(datum.cat4)"}],
 "mark": {"type": "point", "filled": true, "shape": "M0,0L1,0A1,1,0,0,1,0,1Z", "size": 108, "opacity": 1, "strokeWidth": 0},
 "encoding": {"color": {"field": "cat2", "type": "nominal", "legend": null, "scale": {"domain": ["Arrest/Criminal Charge", "Assault", "Chilling Statement", "Equipment Damage", "Equipment Search or Seizure", "Other Incident", "Subpoena/Legal Order"], "range": ["#dc8a35", "#a8292e", "#3a52a8", "#a9d158", "#62a040", "#2b2b2b", "#793e7f"]}}}},
{"transform": [{"filter": "isValid(datum.cat4)"}],
 "mark": {"type": "point", "filled": true, "shape": "M0,0L0,1A1,1,0,0,1,-1,0Z", "size": 108, "opacity": 1, "strokeWidth": 0},
 "encoding": {"color": {"field": "cat3", "type": "nominal", "legend": null, "scale": {"domain": ["Arrest/Criminal Charge", "Assault", "Chilling Statement", "Equipment Damage", "Equipment Search or Seizure", "Other Incident", "Subpoena/Legal Order"], "range": ["#dc8a35", "#a8292e", "#3a52a8", "#a9d158", "#62a040", "#2b2b2b", "#793e7f"]}}}},
{"transform": [{"filter": "isValid(datum.cat4)"}],
 "mark": {"type": "point", "filled": true, "shape": "M0,0L-1,0A1,1,0,0,1,0,-1Z", "size": 108, "opacity": 1, "strokeWidth": 0},
 "encoding": {"color": {"field": "cat4", "type": "nominal", "legend": null, "scale": {"domain": ["Arrest/Criminal Charge", "Assault", "Chilling Statement", "Equipment Damage", "Equipment Search or Seizure", "Other Incident", "Subpoena/Legal Order"], "range": ["#dc8a35", "#a8292e", "#3a52a8", "#a9d158", "#62a040", "#2b2b2b", "#793e7f"]}}}}
]
},
{
"data": {"name": "labels"},
"encoding": {
"x": {"field": "date", "type": "temporal", "timeUnit": "utcyearmonthdate", "bandPosition": 0.5, "axis": null, "scale": {"type": "utc", "domain": [{"year": 2020, "month": 5, "date": 25, "hours": 5, "utc": true}, {"year": 2020, "month": 6, "date": 26, "hours": 19, "utc": true}]}},
"y": {"datum": -0.84, "type": "quantitative", "scale": {"domain": [-2.84, 52.53], "nice": false, "zero": false}, "axis": {"values": [0.5, 5.5, 10.5, 15.5, 20.5, 25.5, 30.5, 35.5, 40.5, 45.5, 50.5], "grid": true, "gridDash": [7, 5], "gridColor": "#d4d4d4", "gridWidth": 1, "labels": false, "ticks": false, "domain": false, "title": null, "zindex": 1}}
},
"layer": [
{"mark": {"type": "text", "align": "right", "baseline": "middle", "dx": -2.5, "font": "Liberation Sans", "fontSize": 19, "fontWeight": "bold", "fill": "white", "stroke": "white", "strokeWidth": 10, "strokeJoin": "round"}, "encoding": {"text": {"field": "dow"}}},
{"mark": {"type": "text", "align": "left", "baseline": "middle", "dx": 2.5, "font": "Liberation Sans", "fontSize": 19, "fill": "white", "stroke": "white", "strokeWidth": 10, "strokeJoin": "round"}, "encoding": {"text": {"field": "md"}}},
{"mark": {"type": "text", "align": "right", "baseline": "middle", "dx": -2.5, "font": "Liberation Sans", "fontSize": 19, "fontWeight": "bold", "color": "#111"}, "encoding": {"text": {"field": "dow"}}},
{"mark": {"type": "text", "align": "left", "baseline": "middle", "dx": 2.5, "font": "Liberation Sans", "fontSize": 19, "color": "#111"}, "encoding": {"text": {"field": "md"}}}
]
},
{
"data": {"values": [{}]},
"mark": {"type": "rule", "color": "#7aa6d6", "strokeWidth": 1, "strokeDash": [4, 3]},
"encoding": {
"x": {"datum": {"year": 2020, "month": 6, "date": 26, "hours": 19, "utc": true}, "type": "temporal", "axis": null, "scale": {"type": "utc", "domain": [{"year": 2020, "month": 5, "date": 25, "hours": 5, "utc": true}, {"year": 2020, "month": 6, "date": 26, "hours": 19, "utc": true}]}},
"y": {"datum": 64.7, "type": "quantitative", "scale": {"domain": [-2.84, 52.53], "nice": false, "zero": false}, "axis": {"values": [0.5, 5.5, 10.5, 15.5, 20.5, 25.5, 30.5, 35.5, 40.5, 45.5, 50.5], "grid": true, "gridDash": [7, 5], "gridColor": "#d4d4d4", "gridWidth": 1, "labels": false, "ticks": false, "domain": false, "title": null, "zindex": 1}},
"y2": {"datum": -3.46}
}
}
]
}
]
}
